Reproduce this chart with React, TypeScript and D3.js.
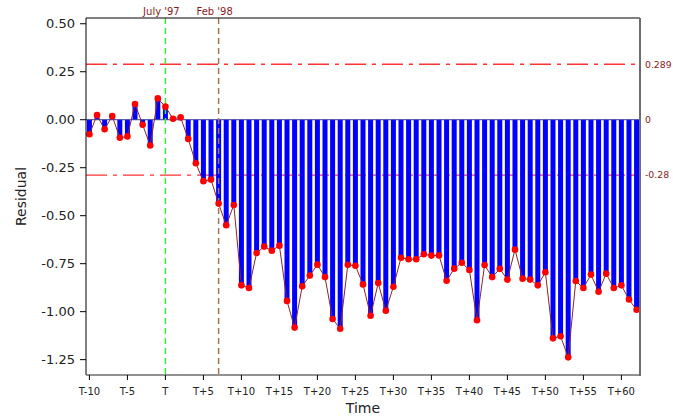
import React from "react";
import * as d3 from "d3";

const periods: number[] = d3.range(-10, 63);
const residuals: number[] = [
  -0.076, 0.024, -0.05, 0.019, -0.094, -0.087, 0.082, -0.026, -0.134, 0.111,
  0.068, 0.005, 0.012, -0.1, -0.227, -0.32, -0.312, -0.437, -0.55, -0.444,
  -0.863, -0.877, -0.694, -0.661, -0.682, -0.656, -0.944, -1.083, -0.868, -0.812,
  -0.755, -0.82, -1.038, -1.089, -0.756, -0.761, -0.858, -1.021, -0.851, -0.995,
  -0.87, -0.719, -0.727, -0.727, -0.701, -0.708, -0.707, -0.839, -0.776, -0.745,
  -0.783, -1.045, -0.757, -0.82, -0.777, -0.833, -0.677, -0.828, -0.833, -0.863,
  -0.795, -1.139, -1.128, -1.238, -0.84, -0.877, -0.807, -0.896, -0.802, -0.877,
  -0.863, -0.937, -0.99,
];
const yTicks: number[] = [0.5, 0.25, 0, -0.25, -0.5, -0.75, -1.0, -1.25];
const xTicks: number[] = d3.range(-10, 61, 5);
const bandValues: number[] = [0.289, -0.289];
const bandLabels: string[] = ["0.289", "-0.28"];
const zeroLabel = "0";
const events: { t: number; label: string; color: string }[] = [
  { t: 0, label: "July '97", color: "#33ee33" },
  { t: 7, label: "Feb '98", color: "#a07858" },
];

const fmtX = (t: number) => (t === 0 ? "T" : t < 0 ? `T${t}` : `T+${t}`);

export default function App() {
  const W = 673, H = 417;
  const left = 86, right = 640, top = 18, bottom = 375;
  const x = d3.scaleLinear().domain([-10.45, 62.45]).range([left, right]);
  const y = d3.scaleLinear().domain([-1.33, 0.53]).range([bottom, top]);
  const barW = 5;
  const font = "DejaVu Sans, Verdana, sans-serif";
  const darkRed = "#8b1a1a";
  const line = d3
    .line<number>()
    .x((_, i) => x(periods[i]))
    .y((d) => y(d));

  return (
    <svg
      width={W}
      height={H}
      style={{ position: "absolute", left: 0, top: 0, background: "#fff" }}
      fontFamily={font}
    >
      {/* band lines (behind bars) */}
      {bandValues.map((b, i) => (
        <line
          key={i}
          x1={left}
          x2={right}
          y1={y(b)}
          y2={y(b)}
          stroke="#ff3333"
          strokeWidth={1.3}
          strokeDasharray="21,6,4,6"
        />
      ))}
      {/* bars */}
      {residuals.map((v, i) => (
        <rect
          key={i}
          x={x(periods[i]) - barW / 2}
          y={Math.min(y(v), y(0))}
          width={barW}
          height={Math.abs(y(v) - y(0))}
          fill="#0000ff"
        />
      ))}
      {/* zero line */}
      <line x1={left} x2={right} y1={y(0)} y2={y(0)} stroke="#3a3aa0" strokeWidth={1} />
      {/* event lines */}
      {events.map((e, i) => (
        <g key={i}>
          <line
            x1={x(e.t)}
            x2={x(e.t)}
            y1={top}
            y2={bottom}
            stroke={e.color}
            strokeWidth={1.5}
            strokeDasharray="6,4"
          />
          <text
            x={x(e.t) - 4}
            y={15}
            textAnchor="middle"
            fontSize={10}
            fill={darkRed}
          >
            {e.label}
          </text>
        </g>
      ))}
      {/* connecting line */}
      <path d={line(residuals) || ""} fill="none" stroke="#8b2525" strokeWidth={1} />
      {/* points */}
      {residuals.map((v, i) => (
        <circle key={i} cx={x(periods[i])} cy={y(v)} r={3.3} fill="#ff0000" />
      ))}
      {/* frame */}
      <line x1={left} x2={right} y1={top} y2={top} stroke="#000" strokeWidth={1} />
      <line x1={right} x2={right} y1={top} y2={bottom + 1} stroke="#6e6e6e" strokeWidth={2} />
      <line x1={left} x2={left} y1={top} y2={bottom} stroke="#000" strokeWidth={1} />
      <line x1={left} x2={right} y1={bottom} y2={bottom} stroke="#6e6e6e" strokeWidth={1.5} />
      {/* y axis ticks */}
      {yTicks.map((t) => (
        <g key={t}>
          <line x1={left - 6} x2={left} y1={y(t)} y2={y(t)} stroke="#000" />
          <text
            x={left - 11}
            y={y(t)}
            dy="0.35em"
            textAnchor="end"
            fontSize={13}
            fill="#222"
          >
            {d3.format(".2f")(t).replace("−", "-")}
          </text>
        </g>
      ))}
      {/* x axis ticks */}
      {xTicks.map((t) => (
        <g key={t}>
          <line x1={x(t)} x2={x(t)} y1={bottom} y2={bottom + 5} stroke="#000" />
          <text x={x(t)} y={395} textAnchor="middle" fontSize={10} fill="#222">
            {fmtX(t)}
          </text>
        </g>
      ))}
      {/* right labels */}
      <text x={645} y={y(bandValues[0])} dy="0.35em" fontSize={9.3} fill={darkRed}>
        {bandLabels[0]}
      </text>
      <text x={645} y={y(0)} dy="0.35em" fontSize={9.3} fill={darkRed}>
        {zeroLabel}
      </text>
      <text x={645} y={y(bandValues[1])} dy="0.35em" fontSize={9.3} fill={darkRed}>
        {bandLabels[1]}
      </text>
      {/* axis titles */}
      <text x={363} y={413} textAnchor="middle" fontSize={14} fill="#222">
        Time
      </text>
      <text
        transform={`translate(26,${(top + bottom) / 2}) rotate(-90)`}
        textAnchor="middle"
        fontSize={14}
        fill="#222"
      >
        Residual
      </text>
    </svg>
  );
}
